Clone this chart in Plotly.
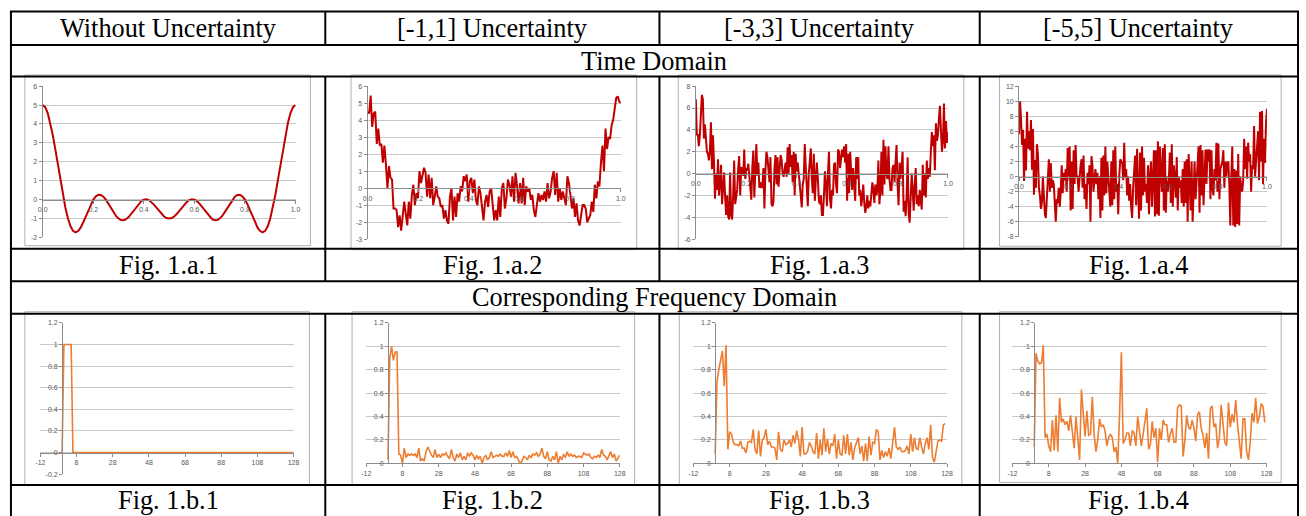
import plotly.graph_objects as go

W, H = 1306, 516

# ---------------- text ----------------
col_titles = ["Without Uncertainty", "[-1,1] Uncertainty", "[-3,3] Uncertainty", "[-5,5] Uncertainty"]
row_titles = ["Time Domain", "Corresponding Frequency Domain"]
fig_a_labels = ["Fig. 1.a.1", "Fig. 1.a.2", "Fig. 1.a.3", "Fig. 1.a.4"]
fig_b_labels = ["Fig. 1.b.1", "Fig. 1.b.2", "Fig. 1.b.3", "Fig. 1.b.4"]

# ---------------- data: time domain ----------------
a1 = [5.00, 4.89, 4.58, 4.07, 3.42, 2.66, 1.84, 1.02, 0.24, -0.44,
      -1.00, -1.41, -1.65, -1.73, -1.66, -1.48, -1.21, -0.89, -0.56, -0.25,
      0.00, 0.17, 0.26, 0.25, 0.16, 0.00, -0.21, -0.44, -0.66, -0.86,
      -1.00, -1.08, -1.09, -1.03, -0.92, -0.75, -0.57, -0.38, -0.21, -0.08,
      0.00, 0.02, -0.02, -0.12, -0.26, -0.42, -0.59, -0.76, -0.89, -0.97,
      -1.00,
      -0.97, -0.89, -0.76, -0.59, -0.42, -0.26, -0.12, -0.02, 0.02, 0.00,
      -0.08, -0.21, -0.38, -0.57, -0.75, -0.92, -1.03, -1.09, -1.08, -1.00,
      -0.86, -0.66, -0.44, -0.21, 0.00, 0.16, 0.25, 0.26, 0.17, 0.00,
      -0.25, -0.56, -0.89, -1.21, -1.48, -1.66, -1.73, -1.65, -1.41, -1.00,
      -0.44, 0.24, 1.02, 1.84, 2.66, 3.42, 4.07, 4.58, 4.89, 5.00]

a2 = [4.5, 4.4, 5.45, 3.6, 4.4, 4.5, 2.6, 3.5, 2.5, 2.6, 1.5, 2.5, 1.4, 0.0, 1.3, 0.6, 0.5,
      -1.2, -1.2, -1.3, -2.3, -1.6, -2.5, -1.4, -0.8, -1.5, -2.2, -0.8, -1.8, -0.4, 0.2, -1.0,
      -0.3, -0.6, 1.0, 0.3, 0.7, 1.2, 0.9, -0.5, 0.8, -0.6, 0.6, -1.0, -0.5, 0.1, -0.5, -0.6,
      -1.1, -1.0, -1.8, -1.3, -1.9, -2.1, -0.5, 0.0, -1.9, -0.5, -1.7, -0.3, -0.8, 0.1, -0.2,
      0.7, 0.4, 0.8, -0.8, 0.4, 0.6, -0.3, 0.5, -0.7, -1.0, 0.1, -0.3, -1.2, -1.9, -0.8, -0.4,
      -1.1, -0.2, 0.0, -0.8, -1.9, -1.3, -1.9, -0.5, -1.7, 0.0, 0.3, -1.2, -0.6, 0.5, 0.2, -0.5,
      0.7, -0.8, 0.9, 0.1, -0.9, 0.3, -0.9, 0.6, -1.0, 0.1, -0.2, 0.0, -0.7, -0.4, -1.3, -1.7,
      -0.8, -0.3, -0.8, -0.4, -0.7, -0.2, -0.8, 0.3, -0.6, -0.2, 0.6, 1.0, -0.4, 0.9, -0.8, 0.0,
      -0.7, -0.2, -0.6, -1.0, 0.7, 0.3, -0.4, -1.2, -0.6, -1.7, -0.9, -1.9, -2.2, -1.4, -1.0,
      -1.0, -1.2, -2.0, -1.8, -1.6, -0.8, -1.4, 0.2, -0.6, 0.4, 0.1, 1.5, 2.5, 1.0, 3.5, 2.3,
      3.0, 2.9, 3.7, 4.0, 4.8, 5.3, 5.4, 5.1, 5.0]

a3 = [6.8, 3.5, 3.6, 2.5, 3.5, 6.2, 7.2, 6.8, 3.2, 4.5, 3.2, 2.0, 1.8, 1.2, 2.2, 4.7, 0.4, 3.5,
      1.0, -2.3, 0.0, -1.5, 1.3, -2.0, -1.0, 0.8, -2.8, -1.0, 0.1, -2.0, -3.8, -2.0, -3.9, -4.2,
      0.1, -3.8, -4.2, -2.0, 1.2, -2.8, -1.8, -1.5, 0.5, 1.6, -2.0, 0.6, 0.3, -0.2, 2.2, -0.5,
      0.5, 0.3, 0.9, -0.5, -2.0, -2.4, 0.5, 2.1, -2.2, 0.6, 2.7, -0.2, 1.0, -1.3, -0.8, -1.3,
      -1.2, 0.5, -3.2, 0.3, 2.0, 1.5, 0.3, -0.8, 1.5, -2.8, -3.0, -2.5, 0.5, 1.7, -1.0, 1.5,
      -1.2, 0.5, 1.7, 1.3, 0.0, -0.3, 0.4, 1.0, -0.3, 2.4, 0.0, 2.7, 0.6, 1.7, -0.8, 2.0, -2.0,
      1.8, 0.2, 1.0, 0.0, -1.5, -2.0, -3.1, -1.0, -0.5, 2.7, 0.5, -1.5, -3.0, 0.0, 1.0, 2.3,
      -0.5, -1.8, 1.8, -2.5, -0.5, 1.0, -0.5, -2.5, -2.8, -2.0, -3.8, -3.8, -2.0, 0.2, -1.0,
      -3.0, 0.0, 2.0, -2.3, -3.2, -1.5, -2.0, 0.8, 1.0, -1.0, -1.8, 2.2, 2.0, 0.5, 1.7, 2.2,
      1.5, 2.5, 1.0, 2.7, -2.5, 1.8, -1.8, 2.0, 0.3, -1.5, 0.5, -1.5, -2.5, 1.5, -0.5, 1.5,
      -2.0, -1.5, -3.0, -2.2, -1.0, -2.7, -3.6, -3.0, -2.0, -3.2, -2.5, -3.0, -1.3, -0.8, -1.5,
      -2.7, -1.0, -2.0, -1.5, 1.2, -2.8, -1.5, 2.0, -2.0, 3.1, -1.0, 2.5, 0.0, -0.5, 2.5, -0.5,
      -1.5, -1.5, 0.5, 0.8, -0.8, 1.0, 2.6, -1.0, -2.9, 1.0, -0.5, 0.5, 2.0, -3.5, -2.5, -3.9,
      -2.0, 1.5, -3.6, -4.5, -2.8, 0.0, -1.5, -3.4, -1.0, 0.5, -2.8, -2.0, -3.0, -1.5, -2.5,
      -3.3, 0.8, -2.0, 0.0, -2.2, 1.2, -0.5, 0.5, -0.3, 2.0, 3.8, 2.5, 3.5, 0.3, 4.6, 3.0, 3.5,
      5.0, 6.2, 4.0, 2.0, 3.0, 6.4, 2.3, 4.8, 2.8, 3.8]

a4 = [5.6, 10.0, 7.5, 4.2, 6.2, -0.6, 5.0, 0.8, 8.6, 3.7, 6.0, 3.5, 7.5, 0.9, 6.3, -2.4, 2.2,
      -1.5, 4.3, 3.0, -1.5, -2.5, -4.3, -3.5, 0.0, -3.0, -5.0, -5.5, -2.5, 0.0, 2.3, -2.0, 1.8,
      -1.5, -0.5, -1.0, -4.0, -6.0, -3.0, -3.5, -1.5, -4.0, -2.0, 1.5, -2.2, 0.5, -0.5, 1.0,
      -2.0, 3.8, 0.0, 4.0, -4.5, 2.0, -4.3, 3.5, -1.0, 4.2, 0.0, 0.0, -2.0, 0.5, 1.5, 2.3, -1.5,
      2.8, -3.0, -1.0, -4.3, 0.5, -1.0, 1.5, -6.0, 2.7, 1.5, -2.0, 0.0, 1.0, -1.0, 0.5, -3.0,
      0.0, -5.5, 2.5, -4.5, 2.8, -2.5, 4.0, -2.2, 2.0, 0.0, -3.0, -4.0, 2.0, -3.8, 3.5, -3.0,
      4.0, -2.0, -1.0, -5.0, 0.0, 2.3, 2.0, 1.8, -0.5, 4.5, 0.0, 1.0, -2.5, 0.0, -3.2, -1.0,
      -4.0, -5.5, -1.5, 1.0, 2.8, -3.8, 3.7, -2.0, -5.6, 3.2, -4.5, 4.0, -2.5, 2.5, -2.0, -1.0,
      -3.5, 1.5, -5.0, 0.0, 2.0, -4.0, -1.0, 3.5, -5.3, 3.5, -5.0, 4.7, -5.2, 4.0, 0.5, -2.0,
      3.8, -4.5, 4.3, -4.8, 0.0, -2.0, -0.5, 3.2, -3.5, 4.3, -4.0, 1.5, 0.0, -2.8, 2.6, -4.5,
      0.0, -1.5, -0.5, -3.5, 1.0, -4.0, 2.0, -3.5, 2.3, -6.0, 3.0, -1.0, -4.5, 2.0, -6.0, -2.0,
      2.0, -3.0, -0.5, 0.5, 4.0, -4.8, 4.2, -2.5, 3.5, -3.8, 0.5, 3.6, -1.0, 3.6, 2.0, 3.6,
      -3.0, 3.5, -1.5, -2.5, 1.0, -0.5, 4.5, -2.0, 4.4, -3.0, 1.0, 1.5, 2.0, 3.5, -1.5, 2.0,
      0.0, 1.8, 2.0, -1.0, -6.5, 0.0, 4.0, -6.5, 1.0, -6.7, 0.8, -6.3, 3.0, -6.5, 0.0, -1.5,
      -2.0, -0.5, 5.0, 1.0, 4.0, -0.3, 4.5, 2.0, 3.0, -2.0, 1.5, 1.0, 6.7, 0.0, 3.0, 4.0, 6.0,
      -0.5, 8.6, 2.0, 8.7, -1.0, 5.0, 1.8, 7.0, 9.0]

# ---------------- data: frequency domain ----------------
b1 = [0, 1, 1, 1, 1, 1, 0, 0, 0, 0, 0, 0, 0, 0, 0, 0,
      0, 0, 0, 0, 0, 0, 0, 0, 0, 0, 0, 0, 0, 0, 0, 0,
      0, 0, 0, 0, 0, 0, 0, 0, 0, 0, 0, 0, 0, 0, 0, 0,
      0, 0, 0, 0, 0, 0, 0, 0, 0, 0, 0, 0, 0, 0, 0, 0,
      0, 0, 0, 0, 0, 0, 0, 0, 0, 0, 0, 0, 0, 0, 0, 0,
      0, 0, 0, 0, 0, 0, 0, 0, 0, 0, 0, 0, 0, 0, 0, 0,
      0, 0, 0, 0, 0, 0, 0, 0, 0, 0, 0, 0, 0, 0, 0, 0,
      0, 0, 0, 0, 0, 0, 0, 0, 0, 0, 0, 0, 0, 0, 0, 0, 0]

b2 = [0.03, 0.90, 1.00, 0.88, 0.95, 0.95, 0.08, 0.07, 0.00, 0.13, 0.05, 0.08, 0.07, 0.08,
      0.07, 0.08, 0.05, 0.13, 0.02, 0.04, 0.02, 0.10, 0.14, 0.10, 0.07, 0.05, 0.12, 0.05,
      0.08, 0.05, 0.08, 0.07, 0.09, 0.06, 0.04, 0.12, 0.05, 0.02, 0.08, 0.05, 0.09, 0.03,
      0.06, 0.03, 0.09, 0.06, 0.09, 0.07, 0.03, 0.07, 0.04, 0.06, 0.00, 0.05, 0.07, 0.03,
      0.05, 0.10, 0.05, 0.06, 0.07, 0.06, 0.08, 0.06, 0.06, 0.09, 0.06, 0.11, 0.05, 0.10,
      0.05, 0.06, 0.03, 0.00, 0.02, 0.06, 0.05, 0.03, 0.07, 0.05, 0.08, 0.07, 0.09, 0.06,
      0.08, 0.13, 0.06, 0.04, 0.10, 0.03, 0.02, 0.06, 0.03, 0.10, 0.00, 0.06, 0.03, 0.08,
      0.05, 0.10, 0.06, 0.08, 0.06, 0.07, 0.05, 0.06, 0.06, 0.05, 0.09, 0.08, 0.07, 0.08,
      0.05, 0.04, 0.06, 0.05, 0.07, 0.05, 0.12, 0.07, 0.06, 0.03, 0.07, 0.10, 0.05, 0.08,
      0.02, 0.04, 0.07]

b3 = [0.08, 0.70, 0.80, 0.90, 0.96, 0.66, 1.01, 0.12, 0.27, 0.25, 0.18, 0.16, 0.16, 0.15,
      0.19, 0.13, 0.13, 0.09, 0.18, 0.19, 0.18, 0.29, 0.12, 0.08, 0.28, 0.06, 0.20, 0.22,
      0.29, 0.16, 0.19, 0.14, 0.14, 0.13, 0.03, 0.27, 0.12, 0.10, 0.20, 0.16, 0.17, 0.20,
      0.14, 0.24, 0.17, 0.28, 0.20, 0.06, 0.31, 0.08, 0.08, 0.10, 0.18, 0.15, 0.10, 0.08,
      0.26, 0.04, 0.20, 0.07, 0.30, 0.10, 0.21, 0.08, 0.17, 0.15, 0.25, 0.04, 0.20, 0.08,
      0.07, 0.24, 0.08, 0.25, 0.07, 0.18, 0.03, 0.13, 0.17, 0.22, 0.08, 0.15, 0.02, 0.17,
      0.02, 0.23, 0.07, 0.18, 0.17, 0.29, 0.27, 0.03, 0.11, 0.05, 0.10, 0.06, 0.13, 0.04,
      0.17, 0.31, 0.14, 0.12, 0.14, 0.10, 0.10, 0.11, 0.15, 0.08, 0.25, 0.10, 0.22, 0.13,
      0.12, 0.22, 0.14, 0.08, 0.17, 0.22, 0.12, 0.33, 0.05, 0.01, 0.10, 0.19, 0.20, 0.19,
      0.33, 0.34]

b4 = [0.14, 0.94, 0.87, 0.85, 0.86, 1.01, 0.22, 0.25, 0.15, 0.10, 0.37, 0.11, 0.41, 0.10,
      0.56, 0.35, 0.38, 0.33, 0.36, 0.28, 0.41, 0.24, 0.13, 0.40, 0.20, 0.03, 0.63, 0.45,
      0.23, 0.45, 0.24, 0.25, 0.57, 0.25, 0.10, 0.20, 0.38, 0.31, 0.33, 0.28, 0.15, 0.22,
      0.25, 0.22, 0.10, 0.14, 0.00, 0.41, 0.95, 0.17, 0.20, 0.26, 0.26, 0.15, 0.28, 0.26,
      0.15, 0.40, 0.27, 0.15, 0.25, 0.38, 0.47, 0.12, 0.16, 0.36, 0.22, 0.30, 0.01, 0.30,
      0.20, 0.37, 0.33, 0.33, 0.18, 0.25, 0.30, 0.18, 0.18, 0.48, 0.50, 0.49, 0.06, 0.20,
      0.41, 0.31, 0.29, 0.37, 0.30, 0.19, 0.42, 0.44, 0.30, 0.24, 0.13, 0.26, 0.04, 0.47,
      0.49, 0.31, 0.34, 0.13, 0.22, 0.50, 0.35, 0.18, 0.15, 0.52, 0.31, 0.42, 0.35, 0.54,
      0.33, 0.20, 0.04, 0.38, 0.38, 0.10, 0.03, 0.18, 0.43, 0.35, 0.56, 0.34, 0.40, 0.51,
      0.49, 0.35]

time_series = [a1, a2, a3, a4]
freq_series = [b1, b2, b3, b4]

# ---------------- ticks ----------------
time_xticks = [0.0, 0.2, 0.4, 0.6, 0.8, 1.0]
time_xtext = ["0.0", "0.2", "0.4", "0.6", "0.8", "1.0"]
time_yticks = [
    [-2, -1, 0, 1, 2, 3, 4, 5, 6],
    [-3, -2, -1, 0, 1, 2, 3, 4, 5, 6],
    [-6, -4, -2, 0, 2, 4, 6, 8],
    [-8, -6, -4, -2, 0, 2, 4, 6, 8, 10, 12],
]
freq_xticks = [-12, 8, 28, 48, 68, 88, 108, 128]
freq_yticks = [
    [-0.2, 0, 0.2, 0.4, 0.6, 0.8, 1, 1.2],
    [0, 0.2, 0.4, 0.6, 0.8, 1, 1.2],
    [0, 0.2, 0.4, 0.6, 0.8, 1, 1.2],
    [0, 0.2, 0.4, 0.6, 0.8, 1, 1.2],
]
freq_ytext = [
    ["-0.2", "0", "0.2", "0.4", "0.6", "0.8", "1", "1.2"],
    ["0", "0.2", "0.4", "0.6", "0.8", "1", "1.2"],
    ["0", "0.2", "0.4", "0.6", "0.8", "1", "1.2"],
    ["0", "0.2", "0.4", "0.6", "0.8", "1", "1.2"],
]

# ---------------- layout geometry (pixels) ----------------
def fx(px):
    return px / W


def fy(py):
    return 1 - py / H


# plot-area pixel boxes: (left, right, top, bottom)
time_boxes = [(38, 293, 83.3, 236.7), (365.7, 621, 83.3, 238.3),
              (696.7, 951, 83.3, 238.3), (1022.7, 1272.7, 83.3, 236)]
freq_boxes = [(35.7, 291, 323.3, 476.7), (364.3, 620, 323.3, 465.7),
              (694.3, 950, 323.3, 465.7), (1016, 1272.3, 323.3, 465.7)]

RED = "#C00000"
ORANGE = "#ED7D31"
GRID = "#c9c9c9"
AXC = "#8c8c8c"
TICKFONT = dict(family="Liberation Sans, Arial, sans-serif", size=7, color="#595959")

fig = go.Figure()
layout = {}

for i in range(4):
    # ---- time domain panel ----
    n = i + 1
    xa = "x" if n == 1 else f"x{n}"
    ya = "y" if n == 1 else f"y{n}"
    ys = time_series[i]
    ts = [k / (len(ys) - 1) for k in range(len(ys))]
    fig.add_trace(go.Scatter(x=ts, y=ys, xaxis=xa, yaxis=ya, mode="lines",
                             line=dict(color=RED, width=2), showlegend=False,
                             hoverinfo="skip"))
    l, r, t, b = time_boxes[i]
    yv = time_yticks[i]
    ymin, ymax = yv[0], yv[-1]
    ydom = [fy(b), fy(t)]
    pos0 = ydom[0] + (0 - ymin) / (ymax - ymin) * (ydom[1] - ydom[0])
    layout["xaxis" if n == 1 else f"xaxis{n}"] = dict(
        domain=[fx(l), fx(r)], range=[0, 1], anchor="free", position=pos0,
        showgrid=False, zeroline=False, showline=True, linecolor=AXC, linewidth=1,
        ticks="outside", ticklen=3, tickcolor=AXC, tickvals=time_xticks,
        ticktext=time_xtext, tickfont=TICKFONT, fixedrange=True)
    layout["yaxis" if n == 1 else f"yaxis{n}"] = dict(
        domain=ydom, range=[ymin, ymax], anchor=xa, showgrid=True, gridcolor=GRID,
        gridwidth=1, zeroline=False, showline=True, linecolor=AXC, linewidth=1,
        ticks="outside", ticklen=3, tickcolor=AXC, tickvals=yv,
        ticktext=[str(v) for v in yv], tickfont=TICKFONT, fixedrange=True)

    # ---- frequency domain panel ----
    m = i + 5
    xa2 = f"x{m}"
    ya2 = f"y{m}"
    fs = freq_series[i]
    ks = list(range(len(fs)))
    fig.add_trace(go.Scatter(x=ks, y=fs, xaxis=xa2, yaxis=ya2, mode="lines",
                             line=dict(color=ORANGE, width=1.6), showlegend=False,
                             hoverinfo="skip"))
    l, r, t, b = freq_boxes[i]
    yv = freq_yticks[i]
    ymin, ymax = yv[0], yv[-1]
    xmin, xmax = freq_xticks[0], freq_xticks[-1]
    ydom = [fy(b), fy(t)]
    xdom = [fx(l), fx(r)]
    xpos0 = xdom[0] + (0 - xmin) / (xmax - xmin) * (xdom[1] - xdom[0])
    ypos0 = ydom[0] + (0 - ymin) / (ymax - ymin) * (ydom[1] - ydom[0])
    layout[f"xaxis{m}"] = dict(
        domain=xdom, range=[xmin, xmax], anchor="free", position=ypos0,
        showgrid=False, zeroline=False, showline=True, linecolor=AXC, linewidth=1,
        ticks="outside", ticklen=3, tickcolor=AXC, tickvals=freq_xticks,
        ticktext=[str(v) for v in freq_xticks], tickfont=TICKFONT, fixedrange=True)
    layout[f"yaxis{m}"] = dict(
        domain=ydom, range=[ymin, ymax], anchor="free", position=xpos0,
        showgrid=True, gridcolor=GRID, gridwidth=1, zeroline=False, showline=True,
        linecolor=AXC, linewidth=1, ticks="outside", ticklen=3, tickcolor=AXC,
        tickvals=yv, ticktext=freq_ytext[i], tickfont=TICKFONT, fixedrange=True)

# ---------------- table shapes ----------------
shapes = []
# chart frames (light grey), mostly hidden at top/bottom by table lines
time_frames = [(20, 308, 245), (349, 637, 249), (679, 967, 249), (1003, 1287, 245.5)]
freq_frames = [(20, 307, 488), (350, 635, 488), (680, 965, 488), (1003, 1287, 485)]
for (l, r, b) in time_frames:
    shapes.append(dict(type="rect", xref="paper", yref="paper", x0=fx(l), x1=fx(r),
                       y0=fy(b), y1=fy(72), line=dict(color="#b0b0b0", width=1)))
for (l, r, b) in freq_frames:
    shapes.append(dict(type="rect", xref="paper", yref="paper", x0=fx(l), x1=fx(r),
                       y0=fy(b), y1=fy(312), line=dict(color="#b0b0b0", width=1)))

LEFT, RIGHT = 6, 1304
hlines = [7.5, 41.5, 73.5, 248, 281, 314, 487.5]
for yy in hlines:
    shapes.append(dict(type="line", xref="paper", yref="paper", x0=fx(LEFT - 1), x1=fx(RIGHT + 1),
                       y0=fy(yy), y1=fy(yy), line=dict(color="black", width=2)))
for xx in (LEFT, RIGHT):
    shapes.append(dict(type="line", xref="paper", yref="paper", x0=fx(xx), x1=fx(xx),
                       y0=fy(7.5), y1=fy(520), line=dict(color="black", width=2)))
inner_cols = [323, 660, 983]
for xx in inner_cols:
    for (y0, y1) in [(7.5, 41.5), (73.5, 281), (314, 520)]:
        shapes.append(dict(type="line", xref="paper", yref="paper", x0=fx(xx), x1=fx(xx),
                           y0=fy(y0), y1=fy(y1), line=dict(color="black", width=2)))

# ---------------- table text ----------------
SERIF = dict(family="Liberation Serif, Times New Roman, serif", size=26.3, color="black")
col_edges = [LEFT] + inner_cols + [RIGHT]
annotations = []
for j in range(4):
    cx = fx((col_edges[j] + col_edges[j + 1]) / 2)
    for txt, cy in [(col_titles[j], 25), (fig_a_labels[j], 265), (fig_b_labels[j], 503)]:
        annotations.append(dict(text=txt, x=cx, y=fy(cy), xref="paper", yref="paper",
                                showarrow=False, xanchor="center", yanchor="middle", font=SERIF))
for txt, cy in [(row_titles[0], 58), (row_titles[1], 298)]:
    annotations.append(dict(text=txt, x=fx((LEFT + RIGHT) / 2), y=fy(cy), xref="paper",
                            yref="paper", showarrow=False, xanchor="center",
                            yanchor="middle", font=SERIF))

fig.update_layout(width=W, height=H, margin=dict(l=0, r=0, t=0, b=0),
                  paper_bgcolor="white", plot_bgcolor="white", showlegend=False,
                  shapes=shapes, annotations=annotations, **layout)

fig.write_html("out.html", config={"displayModeBar": False},
               post_script="document.body.style.margin='0';document.body.style.overflow='hidden';")
